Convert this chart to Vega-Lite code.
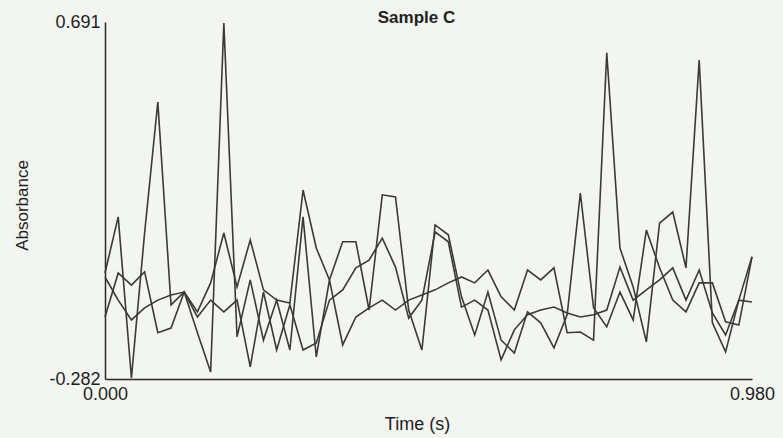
{
  "$schema": "https://vega.github.io/schema/vega-lite/v6.json",
  "width": 647,
  "height": 357,
  "autosize": {"type": "none"},
  "padding": {"left": 105, "top": 22, "right": 31, "bottom": 59},
  "background": "#f3f5f0",
  "title": {"text": "Sample C", "anchor": "middle", "dx": -12, "offset": -14, "font": "Liberation Sans Narrow, Liberation Sans, Arial", "fontSize": 17, "fontWeight": "bold", "color": "#222"},
  "config": {"view": {"stroke": null}},
  "data": {"values": [
    {"t":0.00,"A":0.007,"B":-0.113,"C":-0.004},
    {"t":0.02,"A":0.160,"B":0.007,"C":-0.067},
    {"t":0.04,"A":-0.279,"B":-0.026,"C":-0.121},
    {"t":0.06,"A":0.116,"B":0.010,"C":-0.088},
    {"t":0.08,"A":0.473,"B":-0.156,"C":-0.067},
    {"t":0.10,"A":-0.080,"B":-0.143,"C":-0.053},
    {"t":0.12,"A":-0.045,"B":-0.045,"C":-0.045},
    {"t":0.14,"A":-0.156,"B":-0.099,"C":-0.113},
    {"t":0.16,"A":-0.263,"B":-0.020,"C":-0.067},
    {"t":0.18,"A":0.688,"B":0.116,"C":-0.099},
    {"t":0.20,"A":-0.167,"B":-0.031,"C":-0.067},
    {"t":0.22,"A":-0.012,"B":0.097,"C":-0.249},
    {"t":0.24,"A":-0.176,"B":-0.039,"C":-0.045},
    {"t":0.26,"A":-0.067,"B":-0.067,"C":-0.203},
    {"t":0.28,"A":-0.203,"B":-0.075,"C":-0.080},
    {"t":0.30,"A":0.160,"B":0.233,"C":-0.203},
    {"t":0.32,"A":-0.222,"B":0.075,"C":-0.184},
    {"t":0.34,"A":-0.012,"B":-0.012,"C":-0.067},
    {"t":0.36,"A":-0.189,"B":0.092,"C":-0.039},
    {"t":0.38,"A":-0.113,"B":0.092,"C":0.021},
    {"t":0.40,"A":-0.088,"B":-0.094,"C":0.042},
    {"t":0.42,"A":-0.067,"B":0.220,"C":0.102},
    {"t":0.44,"A":-0.094,"B":0.214,"C":0.023},
    {"t":0.46,"A":-0.067,"B":-0.094,"C":-0.116},
    {"t":0.48,"A":-0.053,"B":-0.203,"C":-0.067},
    {"t":0.50,"A":-0.039,"B":0.138,"C":0.119},
    {"t":0.52,"A":-0.020,"B":0.111,"C":0.092},
    {"t":0.54,"A":-0.004,"B":-0.058,"C":-0.086},
    {"t":0.56,"A":-0.020,"B":-0.162,"C":-0.067},
    {"t":0.58,"A":0.015,"B":-0.045,"C":-0.094},
    {"t":0.60,"A":-0.058,"B":-0.176,"C":-0.230},
    {"t":0.62,"A":-0.094,"B":-0.211,"C":-0.148},
    {"t":0.64,"A":0.015,"B":-0.099,"C":-0.107},
    {"t":0.66,"A":-0.012,"B":-0.129,"C":-0.094},
    {"t":0.68,"A":0.021,"B":-0.197,"C":-0.086},
    {"t":0.70,"A":-0.156,"B":-0.107,"C":-0.102},
    {"t":0.72,"A":-0.154,"B":0.225,"C":-0.113},
    {"t":0.74,"A":-0.176,"B":-0.088,"C":-0.107},
    {"t":0.76,"A":0.607,"B":-0.140,"C":-0.094},
    {"t":0.78,"A":0.075,"B":-0.045,"C":0.023},
    {"t":0.80,"A":-0.031,"B":-0.121,"C":-0.067},
    {"t":0.82,"A":-0.181,"B":0.124,"C":-0.039},
    {"t":0.84,"A":0.143,"B":0.021,"C":-0.012},
    {"t":0.86,"A":0.173,"B":-0.067,"C":0.021},
    {"t":0.88,"A":0.021,"B":-0.099,"C":-0.067},
    {"t":0.90,"A":0.587,"B":-0.020,"C":0.015},
    {"t":0.92,"A":-0.129,"B":-0.020,"C":-0.102},
    {"t":0.94,"A":-0.208,"B":-0.126,"C":-0.162},
    {"t":0.96,"A":-0.067,"B":-0.135,"C":-0.067},
    {"t":0.98,"A":0.051,"B":0.051,"C":-0.072}
  ]},
  "transform": [{"fold": ["A", "B", "C"], "as": ["series", "value"]}],
  "mark": {"type": "line", "color": "#3a3a3a", "strokeWidth": 1.6, "clip": false},
  "encoding": {
    "x": {
      "field": "t", "type": "quantitative",
      "scale": {"domain": [0, 0.98], "nice": false, "zero": false},
      "axis": {
        "title": "Time (s)", "values": [0, 0.98], "format": ".3f",
        "grid": false, "ticks": false, "domainColor": "#2a2a2a", "domainWidth": 1.5,
        "labelFont": "Liberation Sans Narrow, Liberation Sans, Arial", "labelFontSize": 18, "labelColor": "#1e1e1e", "labelPadding": 6,
        "labelFlush": false, "labelOverlap": false,
        "titleFont": "Liberation Sans Narrow, Liberation Sans, Arial", "titleFontSize": 18, "titleFontWeight": "normal", "titleColor": "#1e1e1e",
        "titleX": 312, "titleY": 36, "titleBaseline": "top"
      }
    },
    "y": {
      "field": "value", "type": "quantitative",
      "scale": {"domain": [-0.282, 0.691], "nice": false, "zero": false},
      "axis": {
        "title": "Absorbance", "values": [-0.282, 0.691], "format": ".3f",
        "labelExpr": "replace(datum.label, '\u2212', '-')",
        "grid": false, "ticks": false, "domainColor": "#2a2a2a", "domainWidth": 1.5,
        "labelFont": "Liberation Sans Narrow, Liberation Sans, Arial", "labelFontSize": 18, "labelColor": "#1e1e1e", "labelPadding": 5,
        "labelFlush": false, "labelOverlap": false, "labelBaseline": "middle",
        "titleFont": "Liberation Sans Narrow, Liberation Sans, Arial", "titleFontSize": 17, "titleFontWeight": "normal", "titleColor": "#1e1e1e",
        "titleAngle": 270, "titleX": -83, "titleY": 183, "titleAlign": "center", "titleBaseline": "middle"
      }
    },
    "detail": {"field": "series", "type": "nominal"}
  }
}
